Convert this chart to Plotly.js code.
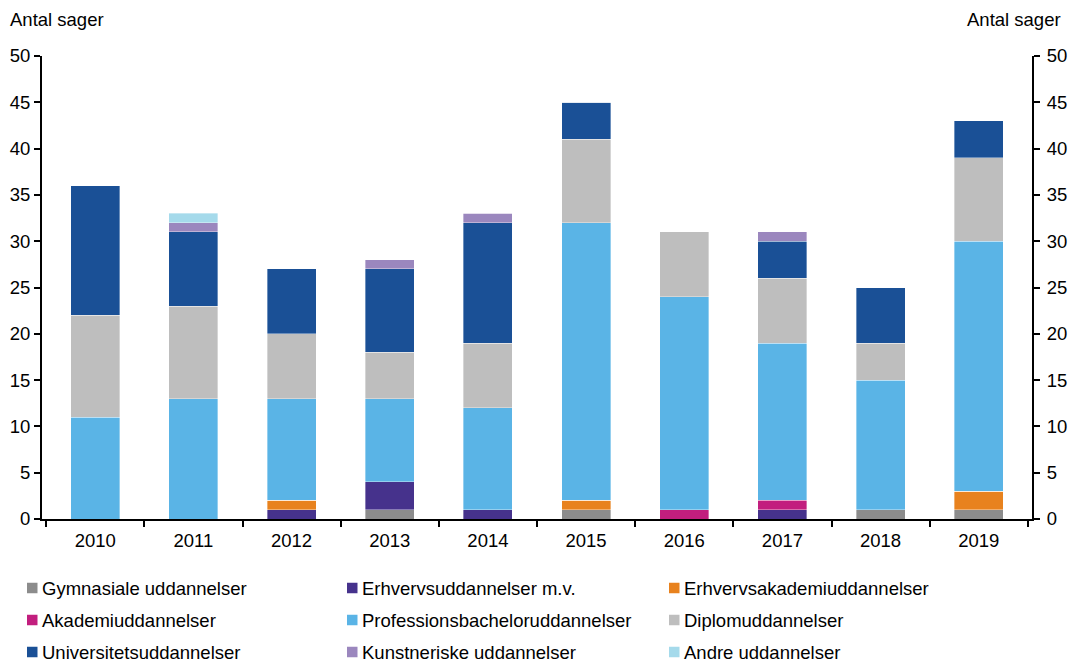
<!DOCTYPE html>
<html><head><meta charset="utf-8">
<script src="https://cdn.plot.ly/plotly-3.0.1.min.js"></script>
<style>body{margin:0;background:#fff}#c{width:1070px;height:662px}</style>
</head><body><div id="c"></div>
<script>
const years = ['2010','2011','2012','2013','2014','2015','2016','2017','2018','2019'];
const seriesNames = ['Gymnasiale uddannelser','Erhvervsuddannelser m.v.','Erhvervsakademiuddannelser','Akademiuddannelser','Professionsbacheloruddannelser','Diplomuddannelser','Universitetsuddannelser','Kunstneriske uddannelser','Andre uddannelser'];
const gymnasiale      = [0,0,0,1,0,1,0,0,1,1];
const erhvervs        = [0,0,1,3,1,0,0,1,0,0];
const erhvervsakademi = [0,0,1,0,0,1,0,0,0,2];
const akademi         = [0,0,0,0,0,0,1,1,0,0];
const professions     = [11,13,11,9,11,30,23,17,14,27];
const diplom          = [11,10,7,5,7,9,7,7,4,9];
const universitet     = [14,8,7,9,13,4,0,4,6,4];
const kunstneriske    = [0,1,0,1,1,0,0,1,0,0];
const andre           = [0,1,0,0,0,0,0,0,0,0];
const colors = ['#8c8c8c','#46328c','#e8821e','#c21e7e','#5ab4e6','#bebebe','#1a5096','#9b87be','#a5daeb'];
const values = [gymnasiale,erhvervs,erhvervsakademi,akademi,professions,diplom,universitet,kunstneriske,andre];

const W = 1070, H = 662, ML = 42, MR = 38, MT = 56, MB = 143;
const PW = W - ML - MR, PH = H - MT - MB;
const px2x = p => (p - ML) / PW;
const py2y = p => (H - MB - p) / PH;

const font = {family:'Liberation Sans, Arial, sans-serif', size:18.5, color:'#000'};
const traces = values.map((v,i)=>({
  type:'bar', x:years, y:v, name:seriesNames[i], showlegend:false,
  marker:{color:colors[i], line:{width:0.6, color:'rgba(255,255,255,0.6)'}},
  width:0.5, hoverinfo:'skip'
}));
traces.push({type:'scatter', x:years, y:years.map(()=>null), yaxis:'y2', showlegend:false, hoverinfo:'skip'});

// custom legend: 3 columns x 3 rows
const colSq = [27, 347, 669];
const rowY = [588, 620, 652];
const shapes = [], annotations = [];
seriesNames.forEach((n,i)=>{
  const c = i % 3, r = Math.floor(i / 3);
  shapes.push({type:'rect', xref:'paper', yref:'paper',
    x0:px2x(colSq[c]), x1:px2x(colSq[c]+10.5), y0:py2y(rowY[r]+5.25), y1:py2y(rowY[r]-5.25),
    fillcolor:colors[i], line:{width:0}});
  annotations.push({text:n, xref:'paper', yref:'paper', x:px2x(colSq[c]+12.5), y:py2y(rowY[r]),
    xanchor:'left', yanchor:'middle', showarrow:false, font:font});
});
annotations.push({text:'Antal sager', xref:'paper', yref:'paper', x:px2x(8), y:py2y(19), xanchor:'left', yanchor:'middle', showarrow:false, font:font});
annotations.push({text:'Antal sager', xref:'paper', yref:'paper', x:px2x(1063), y:py2y(19), xanchor:'right', yanchor:'middle', showarrow:false, font:font});

const axisCommon = {showline:true, linecolor:'#000', linewidth:2, ticks:'outside', ticklen:6, tickwidth:2, tickcolor:'#000', tickfont:font, showgrid:false, zeroline:false};
const layout = {
  width:W, height:H, font:font,
  paper_bgcolor:'#fff', plot_bgcolor:'#fff',
  barmode:'stack', bargap:0.5,
  margin:{l:ML, r:MR, t:MT, b:MB, autoexpand:false},
  showlegend:false,
  xaxis:Object.assign({}, axisCommon, {type:'category', tickson:'boundaries', ticklen:6, ticklabelstandoff:4}),
  yaxis:Object.assign({}, axisCommon, {range:[0,50], dtick:5, fixedrange:true}),
  yaxis2:Object.assign({}, axisCommon, {range:[0,50], dtick:5, overlaying:'y', side:'right', ticklabelstandoff:3}),
  shapes:shapes, annotations:annotations
};
Plotly.newPlot('c', traces, layout, {displayModeBar:false, staticPlot:true});
</script></body></html>
